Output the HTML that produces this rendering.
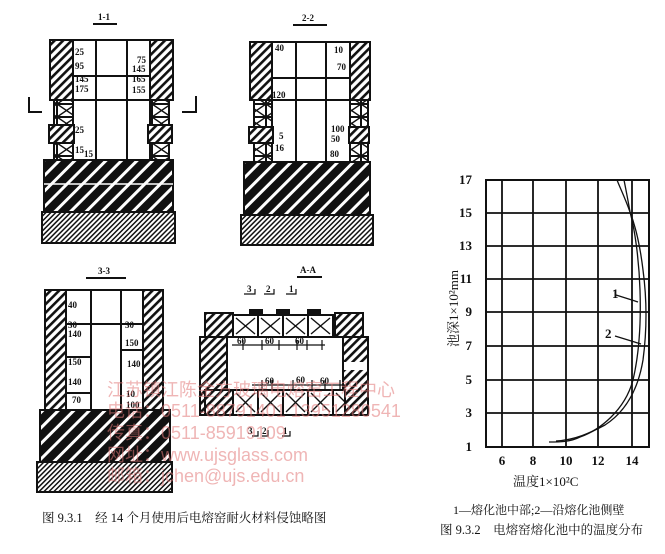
<!DOCTYPE html>
<html><head><meta charset="utf-8"><style>
html,body{margin:0;padding:0;background:#fff;}
svg{display:block;}
text{font-family:"Liberation Serif","Noto Serif CJK SC",serif;fill:#111;}
.n{font-size:9px;font-weight:bold;}
.wm{font-family:"Liberation Sans","Noto Sans CJK SC",sans-serif;font-size:18px;fill:rgba(225,120,120,0.55);}
</style></head><body>
<svg width="665" height="554" viewBox="0 0 665 554" xmlns="http://www.w3.org/2000/svg">
<defs>
<pattern id="hc" width="11" height="11" patternUnits="userSpaceOnUse" patternTransform="rotate(45)">
<rect width="11" height="11" fill="#111"/><rect x="0" y="0" width="3" height="11" fill="#fff"/></pattern>
<pattern id="hm" width="6" height="6" patternUnits="userSpaceOnUse" patternTransform="rotate(45)">
<rect width="6" height="6" fill="#fff"/><rect x="0" y="0" width="2.6" height="6" fill="#111"/></pattern>
<pattern id="hf" width="3.5" height="3.5" patternUnits="userSpaceOnUse" patternTransform="rotate(45)">
<rect width="3.5" height="3.5" fill="#fff"/><rect x="0" y="0" width="1.5" height="3.5" fill="#111"/></pattern>
<pattern id="xx" width="19" height="13" patternUnits="userSpaceOnUse">
<rect width="19" height="13" fill="#fff" stroke="#111" stroke-width="2"/><path d="M0 0L19 13M19 0L0 13" stroke="#111" stroke-width="1.4"/></pattern>
<pattern id="xa" width="25" height="22" patternUnits="userSpaceOnUse" x="233" y="315">
<rect width="25" height="22" fill="#fff" stroke="#111" stroke-width="2"/><path d="M3 3L22 19M22 3L3 19" stroke="#111" stroke-width="1.4"/></pattern>
<pattern id="xb" width="25" height="25" patternUnits="userSpaceOnUse" x="233" y="390">
<rect width="25" height="25" fill="#fff" stroke="#111" stroke-width="2"/><path d="M3 3L22 22M22 3L3 22" stroke="#111" stroke-width="1.4"/></pattern>
</defs>
<g stroke="#111" stroke-width="2">
<!-- 1-1 -->
<line x1="93" y1="24" x2="117" y2="24"/>
<rect x="50" y="40" width="123" height="60" fill="#fff"/>
<rect x="50" y="40" width="23" height="60" fill="url(#hm)"/>
<rect x="150" y="40" width="23" height="60" fill="url(#hm)"/>
<line x1="96" y1="40" x2="96" y2="160"/><line x1="127" y1="40" x2="127" y2="160"/>
<line x1="73" y1="76" x2="150" y2="76"/>
<line x1="73" y1="100" x2="73" y2="160"/><line x1="150" y1="100" x2="150" y2="160"/>
<rect x="54" y="100" width="19" height="25" fill="url(#xx)"/>
<rect x="150" y="100" width="19" height="25" fill="url(#xx)"/>
<rect x="49" y="125" width="25" height="18" fill="url(#hm)"/>
<rect x="148" y="125" width="24" height="18" fill="url(#hm)"/>
<rect x="54" y="143" width="19" height="17" fill="url(#xx)"/>
<rect x="150" y="143" width="19" height="17" fill="url(#xx)"/>
<rect x="44" y="160" width="129" height="52" fill="url(#hc)"/>
<line x1="44" y1="184" x2="173" y2="184" stroke="#fff" stroke-width="1.5"/>
<rect x="42" y="212" width="133" height="31" fill="url(#hf)"/>
<path d="M29 97V112H42M196 96V112H182" fill="none"/>
<!-- 2-2 -->
<line x1="293" y1="25" x2="327" y2="25"/>
<rect x="250" y="42" width="120" height="58" fill="#fff"/>
<rect x="250" y="42" width="22" height="58" fill="url(#hm)"/>
<rect x="350" y="42" width="20" height="58" fill="url(#hm)"/>
<line x1="296" y1="42" x2="296" y2="162"/><line x1="326" y1="42" x2="326" y2="162"/>
<line x1="272" y1="78" x2="350" y2="78"/>
<line x1="272" y1="100" x2="272" y2="162"/><line x1="350" y1="100" x2="350" y2="162"/>
<rect x="254" y="100" width="18" height="27" fill="url(#xx)"/>
<rect x="350" y="100" width="18" height="27" fill="url(#xx)"/>
<rect x="249" y="127" width="24" height="16" fill="url(#hm)"/>
<rect x="349" y="127" width="20" height="16" fill="url(#hm)"/>
<rect x="254" y="143" width="18" height="19" fill="url(#xx)"/>
<rect x="350" y="143" width="18" height="19" fill="url(#xx)"/>
<rect x="244" y="162" width="126" height="53" fill="url(#hc)"/>
<rect x="241" y="215" width="132" height="30" fill="url(#hf)"/>
<!-- 3-3 -->
<line x1="86" y1="278" x2="126" y2="278"/>
<rect x="45" y="290" width="118" height="120" fill="#fff"/>
<rect x="45" y="290" width="21" height="120" fill="url(#hm)"/>
<rect x="143" y="290" width="20" height="120" fill="url(#hm)"/>
<line x1="91" y1="290" x2="91" y2="410"/><line x1="121" y1="290" x2="121" y2="410"/>
<line x1="66" y1="324" x2="143" y2="324"/>
<line x1="66" y1="357" x2="91" y2="357"/><line x1="121" y1="350" x2="143" y2="350"/>
<line x1="66" y1="393" x2="91" y2="393"/>
<rect x="40" y="410" width="130" height="52" fill="url(#hc)"/>
<rect x="37" y="462" width="135" height="30" fill="url(#hf)"/>
<!-- A-A -->
<line x1="297" y1="277" x2="322" y2="277"/>
<rect x="233" y="315" width="102" height="22" fill="url(#xa)"/>
<rect x="205" y="313" width="28" height="24" fill="url(#hm)"/>
<rect x="335" y="313" width="28" height="24" fill="url(#hm)"/>
<rect x="200" y="337" width="27" height="78" fill="url(#hm)"/>
<rect x="343" y="337" width="25" height="78" fill="url(#hm)"/>
<rect x="344" y="362" width="23" height="8" fill="#fff" stroke="none"/>
<rect x="233" y="390" width="112" height="25" fill="url(#xb)"/>
<rect x="205" y="390" width="28" height="25" fill="url(#hm)"/>
<rect x="250" y="310" width="12" height="5" fill="#111"/><rect x="277" y="310" width="12" height="5" fill="#111"/><rect x="308" y="310" width="12" height="5" fill="#111"/>
<g stroke-width="1.2" fill="none">
<path d="M232 345H325M243 340V350M262 340V350M279 340V350M297 340V350M307 340V350M322 340V350"/>
<path d="M252 385H345M262 380V390M272 380V390M293 380V390M312 380V390M325 380V390M340 380V390"/>
<path d="M244 294H255V289M264 294H274V289M286 294H296V289"/>
<path d="M252 436H258V431M262 436H268V430M282 436H290V431"/>
</g>
<!-- chart -->
<rect x="486" y="180" width="163" height="267" fill="#fff"/>
<g stroke-width="1.8">
<line x1="502" y1="180" x2="502" y2="447"/><line x1="533" y1="180" x2="533" y2="447"/><line x1="566" y1="180" x2="566" y2="447"/><line x1="598" y1="180" x2="598" y2="447"/><line x1="632" y1="180" x2="632" y2="447"/>
<line x1="486" y1="213" x2="649" y2="213"/><line x1="486" y1="246" x2="649" y2="246"/><line x1="486" y1="279" x2="649" y2="279"/><line x1="486" y1="312" x2="649" y2="312"/><line x1="486" y1="346" x2="649" y2="346"/><line x1="486" y1="380" x2="649" y2="380"/><line x1="486" y1="413" x2="649" y2="413"/>
</g>
<g fill="none" stroke-width="1.3">
<path d="M549 442C560 442 570 442 580 437C600 430 625 410 633 380C640 350 641 320 640 290C639 260 635 230 630 212C625 198 621 190 617 180"/>
<path d="M556 441C575 440 590 433 605 425C625 412 638 390 643 360C647 330 647 300 643 270C640 245 635 225 630 212C628 200 626 190 624 180"/>
<path d="M616 295L638 302M615 336L641 344"/>
</g>
</g>
<!-- texts -->
<text x="98" y="20" class="n">1-1</text><text x="302" y="21" class="n">2-2</text>
<text x="98" y="274" class="n">3-3</text><text x="300" y="273" class="n">A-A</text>
<g class="n">
<text x="75" y="55">25</text><text x="75" y="69">95</text><text x="75" y="82">145</text><text x="75" y="92">175</text>
<text x="137" y="63">75</text><text x="132" y="72">145</text><text x="132" y="82">165</text><text x="132" y="93">155</text>
<text x="75" y="133">25</text><text x="75" y="153">15</text><text x="84" y="157">15</text>
<text x="275" y="51">40</text><text x="334" y="53">10</text><text x="337" y="70">70</text><text x="272" y="98">120</text>
<text x="279" y="139">5</text><text x="275" y="151">16</text><text x="331" y="132">100</text><text x="331" y="142">50</text><text x="330" y="157">80</text>
<text x="68" y="308">40</text><text x="68" y="328">30</text><text x="68" y="337">140</text><text x="68" y="365">150</text><text x="68" y="385">140</text><text x="72" y="403">70</text>
<text x="125" y="328">30</text><text x="125" y="346">150</text><text x="127" y="367">140</text><text x="126" y="397">10</text><text x="126" y="408">100</text>
<text x="237" y="344">60</text><text x="265" y="344">60</text><text x="295" y="344">60</text>
<text x="265" y="384">60</text><text x="296" y="383">60</text><text x="320" y="384">60</text>
<text x="247" y="292">3</text><text x="266" y="292">2</text><text x="289" y="292">1</text>
<text x="248" y="434">3</text><text x="262" y="434">2</text><text x="283" y="434">1</text>
</g>
<g font-size="13" font-weight="bold">
<text x="472" y="184" text-anchor="end">17</text><text x="472" y="217" text-anchor="end">15</text><text x="472" y="250" text-anchor="end">13</text><text x="472" y="283" text-anchor="end">11</text><text x="472" y="316" text-anchor="end">9</text><text x="472" y="350" text-anchor="end">7</text><text x="472" y="384" text-anchor="end">5</text><text x="472" y="417" text-anchor="end">3</text><text x="472" y="451" text-anchor="end">1</text>
<text x="502" y="465" text-anchor="middle">6</text><text x="533" y="465" text-anchor="middle">8</text><text x="566" y="465" text-anchor="middle">10</text><text x="598" y="465" text-anchor="middle">12</text><text x="632" y="465" text-anchor="middle">14</text>
<text x="612" y="298">1</text><text x="605" y="338">2</text>
</g>
<text x="0" y="0" font-size="13" transform="translate(458,347) rotate(-90)">池深1×10²mm</text>
<text x="513" y="486" font-size="13">温度1×10²C</text>
<text x="453" y="514" font-size="12">1—熔化池中部;2—沿熔化池侧壁</text>
<text x="440" y="534" font-size="12.5">图 9.3.2　电熔窑熔化池中的温度分布</text>
<text x="42" y="522" font-size="12.5">图 9.3.1　经 14 个月使用后电熔窑耐火材料侵蚀略图</text>
<text class="wm" x="107" y="396">江苏镇江陈金方玻璃电熔窑工程中心</text>
<text class="wm" x="107" y="417">电话：0511-88791401  13951280541</text>
<text class="wm" x="107" y="439">传真：0511-85919109</text>
<text class="wm" x="107" y="461">网址：www.ujsglass.com</text>
<text class="wm" x="107" y="482">邮箱：jchen@ujs.edu.cn</text>
</svg>
</body></html>
